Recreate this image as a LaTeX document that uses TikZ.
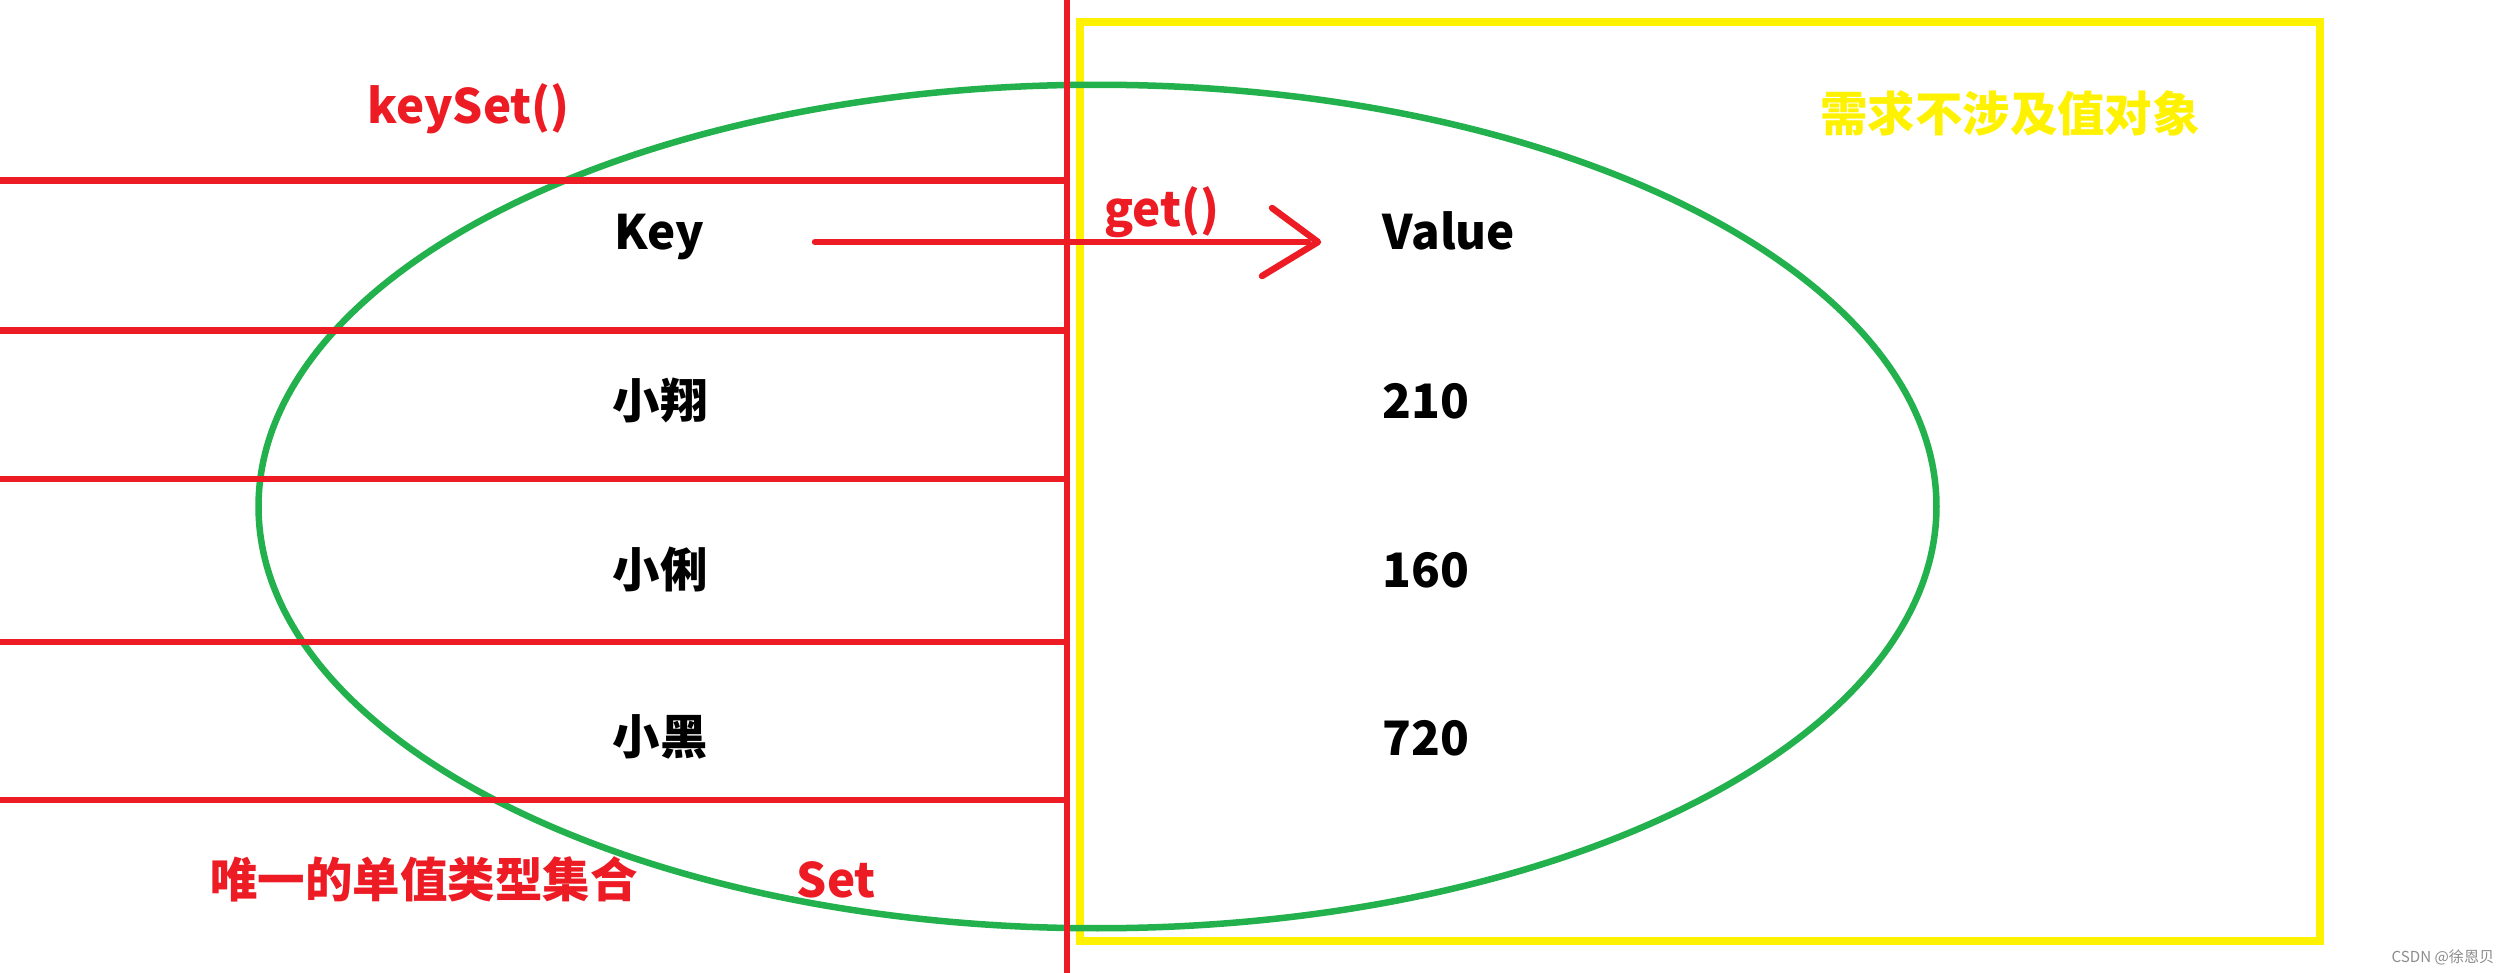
\documentclass[tikz,border=0pt]{standalone}
\usepackage{fontspec}
\setmainfont{Noto Sans CJK SC}
\definecolor{pred}{HTML}{ED1C24}
\definecolor{pgreen}{HTML}{22B14C}
\definecolor{pyellow}{HTML}{FFF200}
\definecolor{pgray}{HTML}{8C8C8C}
\begin{document}
\begin{tikzpicture}[x=0.01cm,y=-0.01cm,
  redline/.style={draw=pred,line width=0.065cm},
  lbl/.style={inner sep=0pt,font=\fontsize{13.5pt}{16pt}\selectfont\bfseries},
  blk/.style={lbl,text=black},
  rlbl/.style={lbl,text=pred},
  arrowline/.style={draw=pred,line width=0.065cm,line cap=round,line join=round},
]
\fill[white] (0,0) rectangle (2505,973);
\useasboundingbox (0,0) rectangle (2505,973);
% yellow box
\draw[pyellow,line width=0.075cm] (1080,22) rectangle (2320,941);
% green ellipse
\draw[pgreen,line width=0.065cm] (1097.5,506.5) ellipse [x radius=8.385cm, y radius=4.215cm];
% red table lines
\foreach \yy in {180.5,330.7,479,642,800} \draw[redline] (0,\yy) -- (1067,\yy);
\draw[pred,line width=0.06cm] (1067,0) -- (1067,973);
% arrow
\coordinate (arrS) at (815,242);
\coordinate (arrE) at (1318,242);
\coordinate (armA) at (1272,208);
\coordinate (armB) at (1262,276);
\draw[arrowline] (arrS) -- (1308,242);
\draw[arrowline] (armA) -- (arrE) -- (armB);
% texts
\node[blk,anchor=base west] (key) at (614,250) {Key};
\node[blk,anchor=base west] (value) at (1382,250) {Value};
\node[blk] (k1) at (660,400) {小翔};
\node[blk] (k2) at (660,569) {小俐};
\node[blk] (k3) at (660,737) {小黑};
\node[blk,anchor=base west] (v1) at (1382,418) {210};
\node[blk,anchor=base west] (v2) at (1382,587) {160};
\node[blk,anchor=base west] (v3) at (1382,755) {720};
\node[rlbl,anchor=base west] (keyset) at (367,124) {keySet()};
\node[rlbl,anchor=base west] (get) at (1104,227) {get()};
\node[rlbl,anchor=base west] (set) at (796,897) {Set};
\node[rlbl] (uniq) at (424,879) {唯一的单值类型集合};
\node[lbl,text=pyellow] (req) at (2010,113) {需求不涉及值对象};
\node[inner sep=0pt,text=pgray,font=\fontsize{4.3pt}{5pt}\selectfont] (wm) at (2443,957) {CSDN @徐恩贝};
\end{tikzpicture}
\end{document}
